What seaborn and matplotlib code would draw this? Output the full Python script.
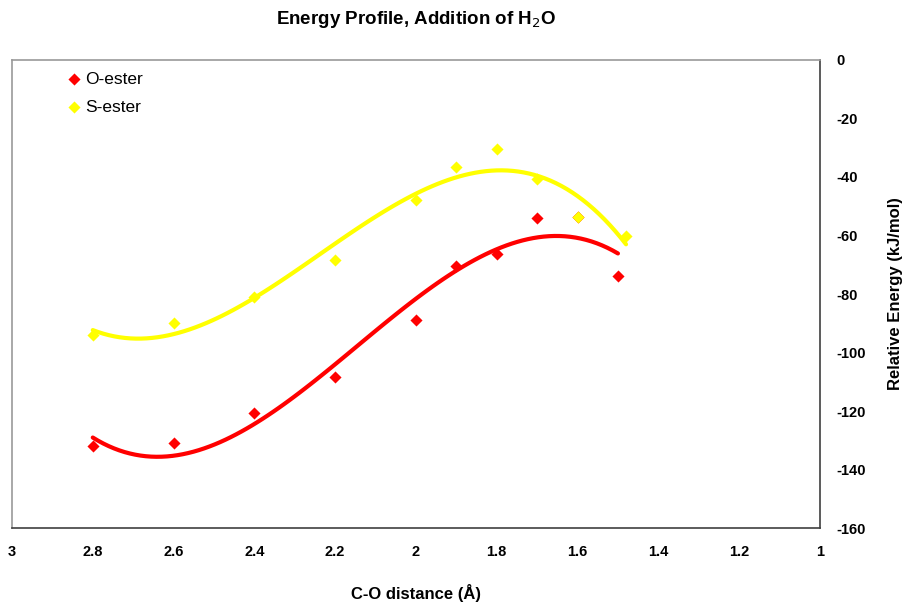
import numpy as np
import pandas as pd
import matplotlib.pyplot as plt
import seaborn as sns
from matplotlib.ticker import FormatStrFormatter

# --- data ---
o_dist = [2.8, 2.6, 2.4, 2.2, 2.0, 1.9, 1.8, 1.7, 1.6, 1.5]
o_energy = [-131.9, -130.8, -120.8, -108.2, -89.0, -70.4, -66.3, -53.9, -53.6, -73.7]
s_dist = [2.8, 2.6, 2.4, 2.2, 2.0, 1.9, 1.8, 1.7, 1.6, 1.48]
s_energy = [-94.0, -89.8, -80.9, -68.3, -48.0, -36.7, -30.6, -40.6, -53.6, -60.3]

x_ticks = [3, 2.8, 2.6, 2.4, 2.2, 2, 1.8, 1.6, 1.4, 1.2, 1]
y_ticks = [0, -20, -40, -60, -80, -100, -120, -140, -160]

series = [('O-ester', o_dist, o_energy, '#ff0000'),
          ('S-ester', s_dist, s_energy, '#ffff00')]

sns.set_style('white')
plt.rcParams['font.family'] = ['Liberation Sans', 'DejaVu Sans']
plt.rcParams['axes.unicode_minus'] = False
plt.rcParams['text.color'] = 'black'
plt.rcParams['axes.labelcolor'] = 'black'
plt.rcParams['xtick.color'] = 'black'
plt.rcParams['ytick.color'] = 'black'

fig = plt.figure(figsize=(9.07, 6.05), dpi=100)
ax = fig.add_axes([0.0132, 0.127, 0.8908, 0.774])

for name, xs, ys, col in series:
    df = pd.DataFrame({'x': xs, 'y': ys})
    # cubic trendline like the spreadsheet's polynomial fit
    sns.regplot(data=df, x='x', y='y', order=3, ci=None, truncate=True,
                marker='D', color=col, ax=ax, label=name,
                scatter_kws=dict(s=38, alpha=1, linewidths=0, zorder=3),
                line_kws=dict(lw=3, zorder=2))

ax.set_xlim(3, 1)
ax.set_ylim(-160, 0)
ax.set_xticks(x_ticks)
ax.set_yticks(y_ticks)
ax.xaxis.set_major_formatter(FormatStrFormatter('%g'))
ax.yaxis.tick_right()
ax.yaxis.set_label_position('right')
ax.tick_params(length=0, labelsize=10.5)
ax.tick_params(axis='x', pad=12)
ax.tick_params(axis='y', pad=12)
for lbl in ax.get_xticklabels() + ax.get_yticklabels():
    lbl.set_fontweight('bold')

for side in ['left', 'top']:
    ax.spines[side].set_color('#999999')
    ax.spines[side].set_linewidth(1.2)
for side in ['right', 'bottom']:
    ax.spines[side].set_color('#404040')
    ax.spines[side].set_linewidth(1.2)

ax.set_xlabel('C-O distance (Å)', fontsize=12, fontweight='bold', labelpad=18)
ax.set_ylabel('Relative Energy (kJ/mol)', fontsize=12, fontweight='bold', labelpad=16)
ax.set_title('Energy Profile, Addition of H$_2$O', fontsize=13.5, fontweight='bold', pad=26)

# legend shows only the markers
handles, labels = ax.get_legend_handles_labels()
keep = [(h, l) for h, l in zip(handles, labels) if l in ('O-ester', 'S-ester')]
ax.legend([h for h, _ in keep], [l for _, l in keep],
          loc='upper left', frameon=False, fontsize=12.5, handletextpad=0.1,
          handlelength=1.0, borderaxespad=0.0, labelspacing=0.75,
          bbox_to_anchor=(0.058, 0.99))

fig.savefig('out.png', dpi=100)
